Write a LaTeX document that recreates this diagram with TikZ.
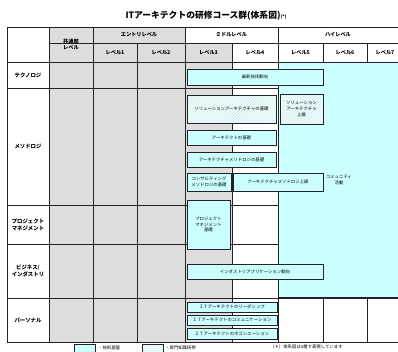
\documentclass[tikz,border=0pt]{standalone}
\usepackage{fontspec}
\setmainfont{Noto Sans CJK JP}[BoldFont={Noto Sans CJK JP Bold}]
\newfontfamily\hvy{Noto Sans CJK JP Black}
\usetikzlibrary{patterns}
\definecolor{cy}{HTML}{CCFFFF}
\definecolor{gr}{HTML}{DDDDDD}
\definecolor{ln}{HTML}{222222}
\definecolor{hatch}{HTML}{C6E8EC}
\definecolor{hbg}{HTML}{F2FDFD}
\begin{document}
\begin{tikzpicture}[x=1bp,y=-1bp,
  grid/.style={draw=ln, line width=1bp},
  box/.style={draw=ln, line width=0.9bp, fill=cy, inner sep=0pt, align=center,
    font=\fontsize{4.4}{5.6}\selectfont},
  hbox/.style={box, preaction={fill=hbg}, pattern=north east lines, pattern color=hatch},
  hdr/.style={font=\hvy\fontsize{5.2}{6.4}\selectfont, align=center, inner sep=0pt},
  rowlab/.style={font=\hvy\fontsize{5.4}{6.8}\selectfont, align=center, inner sep=0pt},
  note/.style={font=\fontsize{4.4}{5}\selectfont, inner sep=0pt, anchor=west}]
\useasboundingbox (0,0) rectangle (398,352);
\clip (0,0) rectangle (398,352);
\fill[white] (0,0) rectangle (398,352);
% title
\node[inner sep=0pt, anchor=base] (title) at (206,18)
  {\hvy\fontsize{8.8}{9}\selectfont ITアーキテクトの研修コース群(体系図){\fontsize{4.5}{5}\selectfont (*)}};
% fills
\fill[gr] (49,27) rectangle (185,62);
\fill[gr] (185,43) rectangle (232,62);
\fill[gr] (49,62) rectangle (232,342);
\fill[cy] (278,63) rectangle (400,297);
% grid
\draw[grid] (7,27) -- (400,27);
\draw[grid] (7,27) -- (7,342);
\draw[grid] (7,342) -- (400,342);
\draw[grid] (49,43) -- (400,43);
\draw[grid] (7,62) -- (400,62);
\foreach \x in {49,93,185,278} \draw[grid] (\x,27) -- (\x,342);
\foreach \x in {137,232} \draw[grid] (\x,43) -- (\x,342);
\foreach \x in {323,367} {\draw[grid] (\x,43) -- (\x,62); \draw[grid] (\x,297) -- (\x,342);}
\foreach \y in {88,205,244} \draw[grid] (7,\y) -- (278,\y);
\draw[grid] (7,298) -- (400,298);
\draw[grid] (278,297) -- (400,297);
% header labels
\node[hdr] (hcom) at (71,44.5) {共通部\\レベル};
\node[hdr] (hentry) at (139,35) {エントリレベル};
\node[hdr] (hmid) at (231.5,35) {ミドルレベル};
\node[hdr] (hhigh) at (338,35) {ハイレベル};
\node[hdr] (l1) at (115,52.5) {レベル1};
\node[hdr] (l2) at (161,52.5) {レベル2};
\node[hdr] (l3) at (208.5,52.5) {レベル3};
\node[hdr] (l4) at (255,52.5) {レベル4};
\node[hdr] (l5) at (300.5,52.5) {レベル5};
\node[hdr] (l6) at (345,52.5) {レベル6};
\node[hdr] (l7) at (385,52.5) {レベル7};
% row labels
\node[rowlab] (rtech) at (28,75) {テクノロジ};
\node[rowlab] (rmeth) at (28,146.5) {メソドロジ};
\node[rowlab] (rpm) at (28,224.5) {プロジェクト\\マネジメント};
\node[rowlab] (rbiz) at (28,271) {ビジネス/\\インダストリ};
\node[rowlab] (rper) at (28,320) {パーソナル};
% community
\node[box, draw=none, fill=none] (comm) at (339,180) {コミュニティ\\活動};
% boxes
\node[box, minimum width=136bp, minimum height=16bp] (b1) at (255,77) {最新技術動向};
\node[hbox, minimum width=89bp, minimum height=28bp] (b2) at (231.5,109) {ソリューションアーキテクチャの基礎};
\node[hbox, minimum width=43bp, minimum height=30bp] (b3) at (301.5,109) {ソリューション\\アーキテクチャ\\上級};
\node[box, minimum width=89bp, minimum height=15bp] (b4) at (231.5,137.5) {アーキテクトの基礎};
\node[box, minimum width=89bp, minimum height=15bp] (b5) at (231.5,159.5) {アーキテクチャメソドロジの基礎};
\node[box, minimum width=44bp, minimum height=18bp] (b6) at (209,182) {コンサルティング\\メソドロジの基礎};
\node[box, minimum width=90bp, minimum height=18bp] (b7) at (278,182) {アーキテクチャメソドロジ上級};
\node[box, minimum width=43bp, minimum height=49bp] (b8) at (208.5,224.5) {プロジェクト\\マネジメント\\基礎};
\node[box, minimum width=136bp, minimum height=15bp] (b9) at (255,271.5) {インダストリアプリケーション動向};
\node[box, minimum width=90bp, minimum height=10bp] (b10) at (232,307) {ＩＴアーキテクトのリーダシップ};
\node[box, minimum width=90bp, minimum height=10bp] (b11) at (232,320) {ＩＴアーキテクトのコミュニケーション};
\node[box, minimum width=90bp, minimum height=11bp] (b12) at (232,333.5) {ＩＴアーキテクトのネゴシエーション};
% legend
\node[box, minimum width=21bp, minimum height=10bp] (lg1) at (84.5,349) {};
\node[note] (lt1) at (98,348) {・技術基盤};
\node[hbox, minimum width=21bp, minimum height=10bp] (lg2) at (152.5,349) {};
\node[note] (lt2) at (165,348) {・専門知識研修};
\node[note] (foot) at (270,347) {（＊）体系図は3層で表現しています};
\end{tikzpicture}
\end{document}
